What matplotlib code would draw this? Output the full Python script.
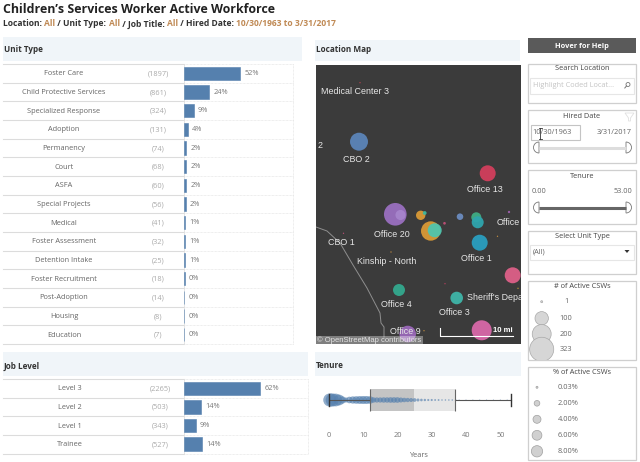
import numpy as np
import matplotlib
matplotlib.use("Agg")
import matplotlib.pyplot as plt
from matplotlib.patches import Rectangle, Wedge, Circle, Polygon

# ---- data ----
unit_types = ["Foster Care", "Child Protective Services", "Specialized Response", "Adoption",
              "Permanency", "Court", "ASFA", "Special Projects", "Medical", "Foster Assessment",
              "Detention Intake", "Foster Recruitment", "Post-Adoption", "Housing", "Education"]
unit_counts = [1897, 861, 324, 131, 74, 68, 60, 56, 41, 32, 25, 18, 14, 8, 7]
unit_pcts = [52, 24, 9, 4, 2, 2, 2, 2, 1, 1, 1, 0, 0, 0, 0]

job_levels = ["Level 3", "Level 2", "Level 1", "Trainee"]
job_counts = [2265, 503, 343, 527]
job_pcts = [62, 14, 9, 14]

map_x = [359, 487.7, 395.3, 400.5, 420.7, 424.7, 430.7, 434.7, 460, 476.3, 477.7, 479.7, 512.7, 399,
         456.7, 481.7, 407.7, 360, 343.5, 391, 445, 444.5, 497.5, 509, 518, 424]
map_y = [141.7, 173.3, 214.3, 215, 215.3, 213, 231, 230.3, 216.7, 217.3, 222.3, 242.7, 275.3, 290,
         298, 330.3, 334, 82.7, 233.3, 252, 283.7, 223.3, 236.3, 212, 288.3, 330.7]
map_counts = [180, 142, 285, 57, 49, 8, 209, 109, 24, 56, 80, 142, 142, 80,
              88, 223, 153, 1, 1, 1, 1, 4, 1, 3, 1, 1]
map_colors = ["#5b84b8", "#d23f5c", "#9a6fc0", "#a685cc", "#d99a36", "#3db8a0", "#d99a36", "#4fc4ae",
              "#6b8cc0", "#3fae84", "#2fa5ae", "#2a9fc0", "#dd6088", "#33a88e",
              "#3fb5a8", "#d868a8", "#9a68b8", "#c04050", "#c05078", "#c89040", "#c04060", "#c05078",
              "#c89040", "#a060b0", "#c8a030", "#c89040"]
map_labels = ["Medical Center 3", "2", "CBO 2", "Office 13", "Office 20", "Office", "CBO 1",
              "Kinship - North", "Office 1", "Office 4", "Sheriff's Depa", "Office 3", "Office 9"]
label_x = [321, 318, 356.7, 485, 392, 497, 341, 386.3, 476.7, 396.7, 466.7, 454, 405]
label_y = [91.7, 145, 159.3, 189, 234.3, 222.3, 242.3, 261, 258.7, 304.7, 298, 312.7, 331.5]
label_ha = ["left", "left", "center", "center", "center", "left", "center",
            "center", "center", "center", "left", "center", "center"]
border_x = [316, 327, 340, 353, 367, 380, 381, 384, 384]
border_y = [227, 231, 243, 265, 288, 313, 323, 327, 337]

tenure_years = [0.3, 1, 2, 3, 4, 5, 6, 7, 8, 9, 10, 11, 12, 13, 14, 15, 16, 17, 18, 19, 20, 21, 22,
                23, 24, 25, 26, 27, 28, 29, 30, 31, 32, 33, 34, 35, 36, 37, 38, 40, 42, 44, 46, 48, 50, 52]
tenure_counts = [150, 150, 140, 100, 45, 22, 38, 46, 50, 54, 56, 56, 50, 26, 24, 24, 26, 26, 28, 28,
                 28, 22, 18, 16, 14, 12, 8, 6, 5, 4, 4, 3, 3, 2, 2, 2, 2, 2, 1, 1, 1, 1, 1, 1, 1, 1]
tenure_stats = [dict(whislo=0, q1=12, med=24.7, q3=36.9, whishi=53, fliers=[])]
tenure_ticks = [0, 10, 20, 30, 40, 50]

size_legend = [1, 100, 200, 323]
pct_legend = [0.03, 2, 4, 6, 8]

# ---- style ----
W, H = 640, 462
SANS = "Open Sans"
MAPF = "Liberation Sans"
BLUE = "#5580ae"
BAND = "#f0f5f9"
FS = 5.3
plt.rcParams["font.family"] = [SANS, "DejaVu Sans"]

fig = plt.figure(figsize=(W / 100, H / 100), dpi=100, facecolor="white")


def pxaxes(x0, y0, x1, y1, **kw):
    ax = fig.add_axes([x0 / W, 1 - y1 / H, (x1 - x0) / W, (y1 - y0) / H], **kw)
    ax.patch.set_alpha(0)
    return ax


bg = pxaxes(0, 0, W, H)
bg.set_xlim(0, W)
bg.set_ylim(H, 0)
bg.axis("off")


def rect(x0, y0, x1, y1, fc="none", ec="none", lw=1, **kw):
    bg.add_patch(Rectangle((x0, y0), x1 - x0, y1 - y0, fc=fc, ec=ec, lw=lw, **kw))


# title
bg.text(3, 9.5, "Children\u2019s Services Worker Active Workforce", fontsize=8.9, fontweight="bold",
        color="#222222", va="center", ha="left")
cx = 3.0
rend = fig.canvas.get_renderer()
for s, c in [("Location: ", "#333333"), ("All", "#c08a55"), (" / Unit Type: ", "#333333"), ("All", "#c08a55"),
             (" / Job Title: ", "#333333"), ("All", "#c08a55"), (" / Hired Date: ", "#333333"),
             ("10/30/1963 to 3/31/2017", "#c08a55")]:
    t = bg.text(cx, 24, s.replace(" ", "\u00a0"), fontsize=6.15, fontweight="bold", color=c, va="center", ha="left")
    cx += t.get_window_extent(rend).width

# section bands
for (x0, y0, x1, y1, name, ty) in [(3, 37, 302, 61, "Unit Type", 50), (3, 352, 308, 376, "Job Level", 366.5),
                                   (315, 40, 520, 61, "Location Map", 50), (315, 352, 521, 376, "Tenure", 365.3)]:
    rect(x0, y0, x1, y1, fc=BAND)
    bg.text(x0 + 1, ty, name, fontsize=5.9, fontweight="bold", color="#333333", va="center", ha="left")


def bar_table(names, counts, pcts, top, bottom, xright, xmax, lab_cx, cnt_cx):
    n = len(names)
    ax = pxaxes(184, top, xright, bottom)
    ax.set_xlim(0, xmax)
    ax.set_ylim(n - 0.5, -0.5)
    ax.axis("off")
    ax.barh(range(n), counts, height=0.72, color=BLUE, edgecolor=BLUE, linewidth=0.4)
    for i, p in enumerate(pcts):
        ax.annotate(f"{p}%", (counts[i], i), xytext=(3.2, 0), textcoords="offset points",
                    fontsize=FS, color="#777777", va="center", ha="left")
    rh = (bottom - top) / n
    for i in range(n + 1):
        y = top + i * rh
        bg.plot([3, 184], [y, y], color="#dcdcdc", lw=0.8)
        bg.plot([184, xright], [y, y], color="#dedede", lw=0.5, ls=(0, (1, 1)))
    bg.plot([xright, xright], [top, bottom], color="#dedede", lw=0.5, ls=(0, (1, 1)))
    bg.plot([184, 184], [top, bottom], color="#e0e0e0", lw=0.6)
    for i in range(n):
        y = top + (i + 0.5) * rh + 0.5
        bg.text(lab_cx, y, names[i], fontsize=FS, color="#666666", ha="center", va="center")
        bg.text(cnt_cx, y, f"({counts[i]})", fontsize=FS, color="#aaaaaa", ha="center", va="center")


bar_table(unit_types, unit_counts, unit_pcts, 64, 344, 293, 109 / (56 / 1897), 64, 158)
bar_table(job_levels, job_counts, job_pcts, 379, 453.5, 308, 124 / (76.3 / 2265), 70, 160)

# map
mp = pxaxes(316, 64.5, 520.7, 344)
mp.patch.set_alpha(1)
mp.set_facecolor("#3b3b3b")
mp.set_xlim(316, 520.7)
mp.set_ylim(344, 64.5)
mp.set_xticks([])
mp.set_yticks([])
for s in mp.spines.values():
    s.set_visible(False)
mp.plot(border_x, border_y, color="#8f8f8f", lw=0.7)
radii = 0.67 * np.sqrt(map_counts)
mp.scatter(map_x, map_y, s=(2 * radii * 0.72) ** 2, c=map_colors, linewidths=0, alpha=0.95, zorder=3)
for s, x, y, ha in zip(map_labels, label_x, label_y, label_ha):
    mp.text(x, y, s, family=MAPF, fontsize=6.4, color="#e8e8e8", ha=ha, va="center", zorder=4, clip_on=True)
mp.add_patch(Rectangle((316, 336), 107, 8, fc="white", alpha=0.35, ec="none", zorder=5))
mp.text(317, 340, "\u00a9 OpenStreetMap contributors", family=MAPF, fontsize=5.5, color="#e4e4e4",
        ha="left", va="center", zorder=6)
mp.plot([440, 440, 512.7], [328, 336, 336], color="white", lw=0.8, zorder=6)
mp.text(513, 330, "10 mi", family=MAPF, fontsize=5.6, fontweight="bold", color="white", ha="right", va="center", zorder=6)

# tenure
k = 3.43
tn = pxaxes(316, 377.5, 520, 422.5)
tn.set_xlim((316 - 328.8) / k, (520 - 328.8) / k)
tn.set_ylim(-1, 1)
for s in tn.spines.values():
    s.set_visible(False)
tn.set_yticks([])
tn.set_xticks(tenure_ticks)
tn.tick_params(length=0, labelsize=FS, labelcolor="#777777", pad=6.6)
tn.set_xlabel("Years", fontsize=FS, color="#666666", labelpad=9.4)
st = tenure_stats[0]
tn.barh(0, st["med"] - st["q1"], left=st["q1"], height=0.98, color="#c4c4c4", zorder=1)
tn.barh(0, st["q3"] - st["med"], left=st["med"], height=0.98, color="#e6e6e6", zorder=1)
tn.scatter(tenure_years, [0] * len(tenure_years), s=np.array(tenure_counts) * 0.6, color=BLUE,
           alpha=0.65, linewidths=0, zorder=2)
tn.bxp(tenure_stats, orientation="horizontal", positions=[0], widths=[1.0], showbox=False, showcaps=True,
       medianprops=dict(lw=0),
       whiskerprops=dict(color="#555555", lw=0.8), capprops=dict(color="#333333", lw=1.0), manage_ticks=False,
       zorder=3)
tn.vlines([st["q1"], st["q3"]], -0.49, 0.49, color="#666666", lw=0.8, zorder=3)

# right panel
rect(528, 37.5, 636, 52.5, fc="#5a5a5a")
bg.text(582, 46, "Hover for Help", fontsize=FS, fontweight="bold", color="white", ha="center", va="center")
for y0, y1 in [(63.5, 102.5), (110, 162.5), (170, 223.5), (231, 273.5), (281, 359.5), (366.5, 460)]:
    rect(528, y0, 636, y1, ec="#cfcfcf", lw=0.9)
for y, s in [(69, "Search Location"), (116.5, "Hired Date"), (176, "Tenure"), (236.5, "Select Unit Type"),
             (286.5, "# of Active CSWs"), (372, "% of Active CSWs")]:
    bg.text(582, y, s, fontsize=FS, color="#444444", ha="center", va="center")
rect(530, 77.5, 634, 93.5, ec="#e6e6e6", lw=0.8)
bg.text(533, 85.5, "Highlight Coded Locat...", fontsize=FS, color="#c4c4c4", ha="left", va="center")
bg.add_patch(Circle((628, 84.5), 2, fc="none", ec="#777777", lw=0.6))
bg.plot([626.5, 624.8], [86, 88], color="#777777", lw=0.7)
rect(530.5, 125, 579.5, 139.5, ec="#c4c4c4", lw=0.8, fc="white")
bg.text(532, 132.5, "10/30/1963", fontsize=FS, color="#666666", ha="left", va="center")
bg.text(632, 132.5, "3/31/2017", fontsize=FS, color="#666666", ha="right", va="center")
bg.plot([540, 540], [128, 139], color="#333333", lw=0.6)
bg.plot([538.5, 541.5], [128, 128], color="#333333", lw=0.6)
bg.plot([538.5, 541.5], [139, 139], color="#333333", lw=0.6)
bg.add_patch(Polygon([(625, 113), (634, 113), (630.5, 118), (630.5, 121), (628.5, 121), (628.5, 118)],
                     fc="none", ec="#e0e0e0", lw=0.6))
bg.text(532, 191.5, "0.00", fontsize=FS, color="#666666", ha="left", va="center")
bg.text(632, 191.5, "53.00", fontsize=FS, color="#666666", ha="right", va="center")
for y, col, lw in [(147.5, "#dddddd", 2.2), (207.5, "#666666", 2.2)]:
    bg.plot([539, 626], [y, y], color=col, lw=lw, solid_capstyle="butt")
    bg.add_patch(Wedge((539, y), 5.5, 90, 270, fc="white", ec="#777777", lw=0.6))
    bg.add_patch(Wedge((626, y), 5.5, -90, 90, fc="white", ec="#777777", lw=0.6))
rect(530, 244.5, 634, 260, ec="#e6e6e6", lw=0.8)
bg.text(533, 252, "(All)", fontsize=FS, color="#666666", ha="left", va="center")
bg.add_patch(Polygon([(624.5, 250), (629.5, 250), (627, 253)], fc="#333333", ec="none"))

# size legends
lg = pxaxes(528, 281, 636, 359.5)
lg.set_xlim(528, 636)
lg.set_ylim(359.5, 281)
lg.axis("off")
yy = [301.7, 318.3, 334, 349.3]
r = np.maximum(1, 0.67 * np.sqrt(size_legend))
lg.scatter([541.7] * 4, yy, s=(2 * r * 0.72) ** 2, color="#d6d6d6", edgecolors="#a8a8a8", linewidths=0.5)
for v, y in zip(size_legend, yy):
    bg.text(566, y, str(v), fontsize=FS, color="#666666", ha="center", va="center")
lg2 = pxaxes(528, 366.5, 636, 460)
lg2.set_xlim(528, 636)
lg2.set_ylim(460, 366.5)
lg2.axis("off")
yy = [387.3, 403.3, 419.3, 435.3, 451.3]
r = np.maximum(1, 2.0 * np.sqrt(pct_legend))
lg2.scatter([537] * 5, yy, s=(2 * r * 0.72) ** 2, color="#d0d0d0", edgecolors="#a0a0a0", linewidths=0.5)
for v, y in zip(pct_legend, yy):
    bg.text(568, y, f"{v:.2f}%", fontsize=FS, color="#666666", ha="center", va="center")

fig.savefig("out.png", dpi=100)
